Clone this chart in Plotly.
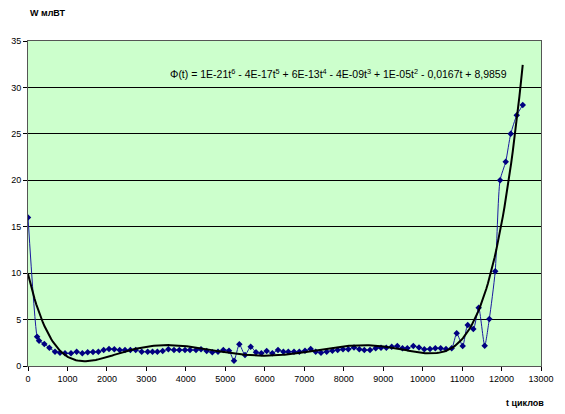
import numpy as np
import plotly.graph_objects as go

# Measured data (cycles, power)
t_cycles = [0, 230, 280, 414, 541, 684, 811, 938, 1090, 1233, 1377, 1512, 1647, 1783, 1918,
            2053, 2188, 2323, 2458, 2594, 2729, 2881, 3033, 3155, 3278, 3413, 3557, 3700,
            3835, 3979, 4105, 4258, 4384, 4528, 4671, 4815, 4950, 5094, 5220, 5355, 5499,
            5643, 5778, 5913, 6049, 6191, 6335, 6471, 6597, 6741, 6876, 7020, 7164, 7291,
            7425, 7569, 7713, 7848, 7983, 8117, 8261, 8396, 8523, 8667, 8811, 8946, 9080,
            9217, 9359, 9490, 9612, 9765, 9909, 10043, 10187, 10322, 10458, 10593, 10737,
            10864, 11016, 11143, 11285, 11421, 11573, 11690, 11840, 11962, 12106, 12233,
            12385, 12537]
w_values = [16.0, 3.16, 2.73, 2.37, 1.97, 1.54, 1.43, 1.36, 1.36, 1.54, 1.36, 1.47, 1.5, 1.54, 1.72,
            1.83, 1.8, 1.72, 1.72, 1.72, 1.72, 1.54, 1.54, 1.54, 1.54, 1.62, 1.8, 1.72,
            1.72, 1.72, 1.72, 1.72, 1.8, 1.62, 1.47, 1.54, 1.72, 1.65, 0.57, 2.33, 1.18,
            2.08, 1.47, 1.36, 1.62, 1.36, 1.72, 1.54, 1.54, 1.54, 1.54, 1.65, 1.83, 1.54,
            1.43, 1.54, 1.65, 1.72, 1.8, 1.8, 2.0, 1.8, 1.72, 1.72, 1.9, 1.97, 1.97,
            2.08, 2.15, 1.9, 1.9, 2.15, 2.0, 1.8, 1.83, 1.9, 1.9, 1.83, 1.9,
            3.52, 2.15, 4.42, 3.98, 6.28, 2.19, 5.06, 10.2, 20.0, 22.0, 25.0,
            27.0, 28.1]

equation_text = ("Φ(t) = 1E-21t<sup>6</sup> - 4E-17t<sup>5</sup> + 6E-13t<sup>4</sup> - "
                 "4E-09t<sup>3</sup> + 1E-05t<sup>2</sup> - 0,0167t + 8,9859")
x_ticks = list(range(0, 13001, 1000))
x_tick_labels = [str(v) for v in x_ticks]
y_ticks = list(range(0, 36, 5))
y_tick_labels = [str(v) for v in y_ticks]

# 6th-order polynomial trendline fitted to the data
poly = np.polynomial.Polynomial.fit(t_cycles, w_values, 6)
t_fit = np.linspace(0, max(t_cycles), 300)
w_fit = poly(t_fit)

fig = go.Figure()
fig.add_trace(go.Scatter(
    x=t_cycles, y=w_values, mode="lines+markers",
    line=dict(color="#1a1aa0", width=1, shape="spline", smoothing=0.6),
    marker=dict(symbol="diamond", size=5, color="#000080"),
    showlegend=False))
fig.add_trace(go.Scatter(
    x=t_fit, y=w_fit, mode="lines",
    line=dict(color="black", width=2),
    showlegend=False))

# The page body adds an 8px offset, so the figure is sized to fill the rest.
font_family = "Liberation Sans, Arial, sans-serif"
fig.update_layout(
    width=557, height=406,
    margin=dict(l=20, r=24, t=33, b=48),
    paper_bgcolor="white", plot_bgcolor="#CCFFCC",
    font=dict(family=font_family, size=9, color="black"),
    xaxis=dict(range=[0, 13000], tickvals=x_ticks, ticktext=x_tick_labels,
               ticks="outside", ticklen=4, automargin=False,
               tickcolor="black", showgrid=False, zeroline=False,
               showline=True, linecolor="#555", linewidth=1, mirror=True,
               tickfont=dict(size=9)),
    yaxis=dict(range=[0, 35], tickvals=y_ticks, ticktext=y_tick_labels,
               ticks="outside", ticklen=4, automargin=False,
               tickcolor="black", showgrid=True, gridcolor="black", gridwidth=1,
               zeroline=False, showline=True, linecolor="#555", linewidth=1,
               mirror=True, tickfont=dict(size=9)),
    annotations=[
        dict(text="<b>W млВТ</b>", xref="paper", yref="paper", x=0.0, y=1.0,
             yshift=28, xanchor="left", yanchor="middle", showarrow=False,
             font=dict(size=9)),
        dict(text="<b>t циклов</b>", xref="paper", yref="paper", x=1.01, y=0,
             yshift=-37, xanchor="right", yanchor="middle", showarrow=False,
             font=dict(size=9)),
        dict(text=equation_text, xref="x", yref="y", x=3540, y=31.5,
             xanchor="left", yanchor="middle", showarrow=False,
             font=dict(size=10.5)),
    ],
)

fig.write_html("out.html")
